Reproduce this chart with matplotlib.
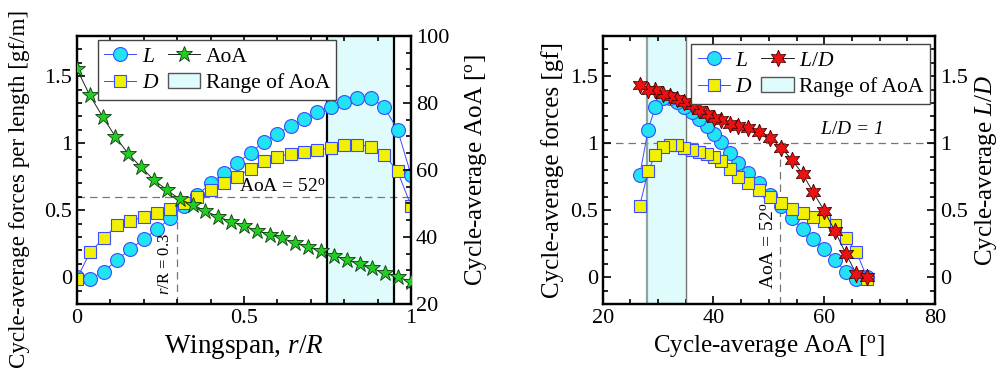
import numpy as np
import matplotlib
matplotlib.use("Agg")
import matplotlib.pyplot as plt
from matplotlib.ticker import MultipleLocator, FuncFormatter
from matplotlib.patches import Patch
from matplotlib.lines import Line2D

plt.rcParams['font.family'] = ['Liberation Serif', 'DejaVu Serif']
plt.rcParams['mathtext.fontset'] = 'custom'
plt.rcParams['mathtext.rm'] = 'Liberation Serif'
plt.rcParams['mathtext.it'] = 'Liberation Serif:italic'

# spanwise stations (left panel)
r_sec = np.arange(26) * 0.04
lift = [0.0, -0.01, 0.04, 0.13, 0.21, 0.285, 0.36, 0.44, 0.535, 0.61, 0.70, 0.78, 0.85,
        0.93, 1.01, 1.07, 1.13, 1.18, 1.23, 1.27, 1.31, 1.34, 1.335, 1.27, 1.10, 0.765]
drag = [-0.01, 0.19, 0.29, 0.39, 0.42, 0.45, 0.48, 0.51, 0.55, 0.60, 0.65, 0.70, 0.75,
        0.81, 0.865, 0.90, 0.92, 0.935, 0.95, 0.965, 0.985, 0.99, 0.975, 0.915, 0.79, 0.535]

# AoA distribution along span
r_aoa = np.arange(27) / 26
aoa = [90.1, 82.3, 75.9, 69.9, 64.8, 60.8, 57.0, 54.0, 51.3, 49.6, 47.8, 46.0, 44.6, 43.3,
       41.9, 40.7, 39.6, 38.2, 37.0, 35.7, 34.4, 33.2, 31.9, 30.6, 29.2, 28.0, 26.7]

# right panel: section AoA for each station, and L/D
aoa_sec = [67.8, 65.8, 63.9, 61.9, 60.0, 58.0, 56.1, 54.2, 52.2, 50.2, 48.3, 46.3, 44.5,
           42.9, 41.4, 40.1, 38.8, 37.4, 36.1, 34.7, 33.5, 32.2, 30.8, 29.5, 28.2, 26.7]
lod = [0.0, 0.025, 0.176, 0.347, 0.496, 0.635, 0.77, 0.875, 0.967, 1.04, 1.08, 1.11, 1.13,
       1.14, 1.17, 1.19, 1.22, 1.25, 1.285, 1.31, 1.33, 1.35, 1.37, 1.395, 1.40, 1.433]

cyan = '#22e3f3'
blue = '#3a4cff'
yellow = '#f2f200'
span_c = '#e0fbfb'

fig = plt.figure(figsize=(10.02, 3.82), dpi=100)
fmt = FuncFormatter(lambda v, p: '%g' % round(v, 3))

def style(ax):
    for s in ax.spines.values():
        s.set_linewidth(1.6)
    ax.tick_params(which='both', direction='in', labelsize=16, width=1.2)
    ax.tick_params(which='major', length=6)
    ax.tick_params(which='minor', length=3.5)

circ = dict(marker='o', ms=10, mfc=cyan, mec=blue, mew=0.8, color=blue, lw=0.7)
sq = dict(marker='s', ms=8, mfc=yellow, mec=blue, mew=0.8, color=blue, lw=0.7)
leg_kw = dict(ncol=2, borderaxespad=0, fontsize=15.5, fancybox=False, edgecolor='#444444',
              framealpha=1, handlelength=1.5, handletextpad=0.25, columnspacing=0.4,
              labelspacing=0.3, borderpad=0.3)

# ---------------- left panel ----------------
ax1 = fig.add_axes([0.0768, 0.2042, 0.3333, 0.7016])
ax1.axvspan(0.75, 0.95, color=span_c, zorder=0)
ax1.axvline(0.75, color='k', lw=1.6)
ax1.axvline(0.95, color='k', lw=1.6)
ax1.plot(r_sec, lift, zorder=3, **circ)
ax1.plot(r_sec, drag, zorder=4, **sq)
ax1.plot([0, 1], [0.6, 0.6], ls=(0, (6, 4)), color='#777777', lw=0.9, zorder=1)
ax1.plot([0.3, 0.3], [-0.2, 0.6], ls=(0, (6, 4)), color='#777777', lw=0.9, zorder=1)
ax1.text(0.745, 0.61, 'AoA = 52$^{\\rm o}$', ha='right', va='bottom', fontsize=14)
ax1.text(0.287, -0.13, '$r$/R = 0.3', rotation=90, ha='right', va='bottom', fontsize=12)
ax1.set_xlim(0, 1)
ax1.set_ylim(-0.2, 1.8)
ax1.xaxis.set_major_locator(MultipleLocator(0.5))
ax1.xaxis.set_minor_locator(MultipleLocator(0.1))
ax1.yaxis.set_major_locator(MultipleLocator(0.5))
ax1.yaxis.set_minor_locator(MultipleLocator(0.1))
ax1.xaxis.set_major_formatter(fmt)
ax1.yaxis.set_major_formatter(fmt)
ax1.xaxis.set_ticks_position('both')
ax1.set_xlabel('Wingspan, $r$/$R$', fontsize=19.5)
ax1.set_ylabel('Cycle-average forces per length [gf/m]', fontsize=16.6)
ax1.yaxis.set_label_coords(-0.14, 0.43)
style(ax1)

ax1b = ax1.twinx()
ax1b.plot(r_aoa, aoa, marker='*', ms=12, mfc='#22cc22', mec='#0b3d0b', mew=0.6,
          color='#222222', lw=0.7, zorder=5)
ax1b.set_ylim(20, 100)
ax1b.yaxis.set_major_locator(MultipleLocator(20))
ax1b.yaxis.set_minor_locator(MultipleLocator(5))
ax1b.set_ylabel('Cycle-average AoA [$^{\\rm o}$]', fontsize=18, labelpad=10)
style(ax1b)

h1 = [Line2D([], [], **circ),
      Line2D([], [], **sq),
      Line2D([], [], marker='*', ms=12, mfc='#22cc22', mec='#0b3d0b', mew=0.6, color='#222222', lw=0.7),
      Patch(facecolor=span_c, edgecolor='#555555')]
ax1b.legend(h1, ['$L$', '$D$', 'AoA', 'Range of AoA'], loc='upper left',
            bbox_to_anchor=(0.062, 0.985), **leg_kw)

# ---------------- right panel ----------------
ax2 = fig.add_axes([0.6015, 0.2042, 0.3316, 0.7016])
ax2.axvspan(28, 35, color=span_c, zorder=0)
ax2.axvline(28, color='#8fa3a3', lw=1.6)
ax2.axvline(35, color='#777777', lw=1.0)
ax2.plot(aoa_sec, lift, zorder=3, **circ)
ax2.plot(aoa_sec, drag, zorder=4, **sq)
star6 = dict(marker=(6, 1, 0), ms=12, mfc='#ee1111', mec='#4a0000', mew=0.6, color='#222222', lw=0.7)
ax2.plot(aoa_sec, lod, zorder=5, **star6)
ax2.plot([20, 80], [1, 1], ls=(0, (6, 4)), color='#777777', lw=0.9, zorder=1)
ax2.plot([52, 52], [-0.2, 1], ls=(0, (6, 4)), color='#777777', lw=0.9, zorder=1)
ax2.text(65, 1.04, '$L/D$ = 1', ha='center', va='bottom', fontsize=14, style='italic')
ax2.text(51.6, -0.09, 'AoA = 52$^{\\rm o}$', rotation=90, ha='right', va='bottom', fontsize=14)
ax2.set_xlim(20, 80)
ax2.set_ylim(-0.2, 1.8)
ax2.xaxis.set_major_locator(MultipleLocator(20))
ax2.xaxis.set_minor_locator(MultipleLocator(5))
ax2.yaxis.set_major_locator(MultipleLocator(0.5))
ax2.yaxis.set_minor_locator(MultipleLocator(0.1))
ax2.yaxis.set_major_formatter(fmt)
ax2.xaxis.set_ticks_position('both')
ax2.set_xlabel('Cycle-average AoA [$^{\\rm o}$]', fontsize=18)
ax2.set_ylabel('Cycle-average forces [gf]', fontsize=18)
style(ax2)

ax2b = ax2.twinx()
ax2b.set_ylim(-0.2, 1.8)
ax2b.yaxis.set_major_locator(MultipleLocator(0.5))
ax2b.yaxis.set_minor_locator(MultipleLocator(0.1))
ax2b.yaxis.set_major_formatter(fmt)
ax2b.set_ylabel('Cycle-average $L/D$', fontsize=18)
style(ax2b)

h2 = [Line2D([], [], **circ),
      Line2D([], [], **sq),
      Line2D([], [], **star6),
      Patch(facecolor=span_c, edgecolor='#555555')]
ax2b.legend(h2, ['$L$', '$D$', '$L/D$', 'Range of AoA'], loc='upper right',
            bbox_to_anchor=(0.985, 0.969), **leg_kw)

fig.savefig('out.png', dpi=100)
